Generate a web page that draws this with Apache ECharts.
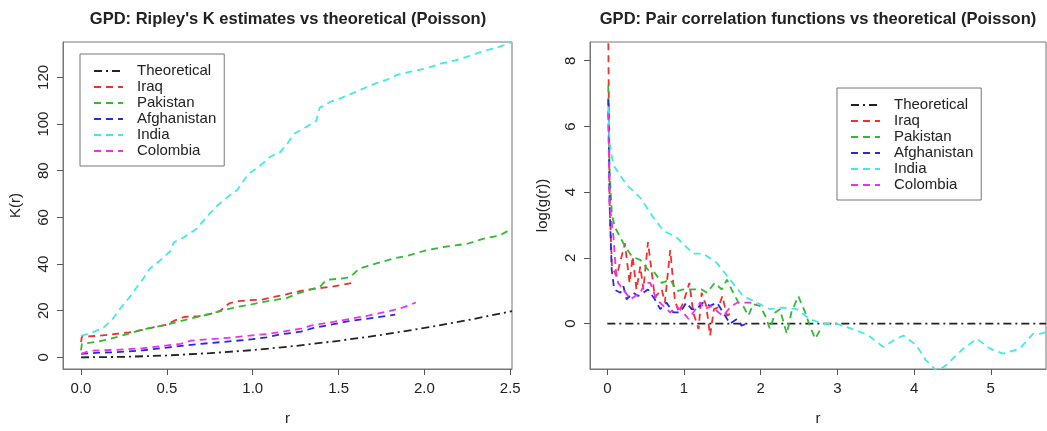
<!DOCTYPE html>
<html><head><meta charset="utf-8">
<script src="https://cdn.jsdelivr.net/npm/echarts@6/dist/echarts.min.js"></script>
<style>html,body{margin:0;padding:0;background:#fff}#c{width:1047px;height:431px}</style>
</head><body><div id="c"></div>
<script>
const seriesNames = ['Theoretical', 'Iraq', 'Pakistan', 'Afghanistan', 'India', 'Colombia'];
const leftTitle = "GPD: Ripley's K estimates vs theoretical (Poisson)";
const rightTitle = "GPD: Pair correlation functions vs theoretical (Poisson)";
const kTicksX = [0, 0.5, 1, 1.5, 2, 2.5];
const kTicksY = [0, 20, 40, 60, 80, 100, 120];
const gTicksX = [0, 1, 2, 3, 4, 5];
const gTicksY = [0, 2, 4, 6, 8];

// Ripley's K (left)
const kTheoretical = [[0,0],[0.25,0.2],[0.5,0.8],[0.75,1.8],[1.0,3.1],[1.25,4.9],[1.5,7.1],[1.75,9.6],[2.0,12.6],[2.25,15.9],[2.51,19.8]];
const kIraq = [[0,6.5],[0.005,8.9],[0.1,9.2],[0.17,9.8],[0.28,10.7],[0.36,11.8],[0.42,12.8],[0.5,14.0],[0.54,15.6],[0.6,17.3],[0.69,17.7],[0.75,18.5],[0.81,19.9],[0.86,23.0],[0.9,24.0],[0.98,24.5],[1.06,24.8],[1.13,26.0],[1.2,27.1],[1.28,28.5],[1.37,29.5],[1.47,30.4],[1.53,31.2],[1.6,32.2]];
const kPakistan = [[0,3.0],[0.005,5.8],[0.1,6.8],[0.17,7.9],[0.28,10.2],[0.36,12.0],[0.5,14.0],[0.62,16.3],[0.77,19.0],[0.89,21.3],[1.0,22.8],[1.08,24.0],[1.2,25.5],[1.26,27.3],[1.37,29.8],[1.39,30.1],[1.43,33.2],[1.53,33.9],[1.57,34.6],[1.62,38.0],[1.7,39.8],[1.82,42.4],[1.9,43.5],[2.01,45.9],[2.11,47.3],[2.25,48.7],[2.34,50.8],[2.44,52.3],[2.51,55.2]];
const kAfghanistan = [[0,1.5],[0.1,2.0],[0.2,2.2],[0.36,3.0],[0.5,4.2],[0.6,5.0],[0.7,5.8],[0.89,7.0],[1.0,7.8],[1.08,8.6],[1.16,9.8],[1.28,11.0],[1.35,12.5],[1.47,14.2],[1.55,15.4],[1.66,16.5],[1.8,18.0],[1.83,18.3]];
const kIndia = [[0,9.2],[0.06,10.5],[0.13,12.7],[0.18,16],[0.23,21.1],[0.28,25.5],[0.32,29.6],[0.36,33.5],[0.40,38],[0.46,41.5],[0.52,45.5],[0.54,49.3],[0.6,51.5],[0.67,54.9],[0.73,60],[0.79,64.8],[0.85,68.5],[0.91,71.8],[0.95,76],[0.98,78.9],[1.04,82],[1.1,85.9],[1.16,88],[1.2,91.5],[1.24,95.8],[1.29,97.8],[1.37,101.4],[1.39,107],[1.45,109.5],[1.49,110.5],[1.56,112.5],[1.63,114.8],[1.72,117.6],[1.78,119],[1.84,121.1],[1.92,122.5],[2.01,123.9],[2.1,126],[2.18,127.3],[2.25,128.9],[2.33,131],[2.40,132.4],[2.47,134],[2.51,135.2]];
const kColombia = [[0,1.5],[0.05,2.8],[0.2,3.2],[0.36,3.9],[0.5,5.1],[0.58,5.8],[0.64,7.2],[0.8,8.0],[0.89,8.6],[1.08,10.0],[1.16,10.8],[1.28,12.3],[1.35,13.8],[1.47,15.2],[1.55,16.3],[1.66,17.7],[1.8,19.9],[1.88,21.5],[1.95,23.5]];

// log pair correlation (right)
const gTheoretical = [[0,0],[5.72,0]];
const gIraq = [[0.012,8.9],[0.03,3.6],[0.06,1.74],[0.12,1.44],[0.17,1.9],[0.23,2.44],[0.29,1.24],[0.33,2.04],[0.38,1.04],[0.43,1.74],[0.47,1.04],[0.53,2.48],[0.62,0.8],[0.71,1.04],[0.75,0.64],[0.82,2.24],[0.88,0.74],[0.93,0.34],[0.99,0.64],[1.07,1.24],[1.12,0.34],[1.19,-0.16],[1.23,0.94],[1.29,0.54],[1.34,-0.36],[1.39,0.44],[1.45,0.5],[1.5,0.84],[1.56,0.24],[1.6,0.3]];
const gPakistan = [[0.012,7.25],[0.03,4.6],[0.06,3.3],[0.1,2.93],[0.21,2.44],[0.32,2.04],[0.43,1.94],[0.53,1.64],[0.62,1.54],[0.71,1.24],[0.82,1.34],[0.91,0.99],[0.99,1.04],[1.12,1.04],[1.23,1.04],[1.30,0.94],[1.40,1.24],[1.49,1.04],[1.56,1.34],[1.62,1.04],[1.71,0.64],[1.77,0.54],[1.84,0.24],[1.90,0.59],[1.99,0.54],[2.06,0.24],[2.12,-0.16],[2.19,0.34],[2.25,0.44],[2.34,-0.31],[2.40,0.34],[2.49,0.84],[2.58,0.34],[2.64,-0.06],[2.71,-0.46],[2.77,-0.21]];
const gAfghanistan = [[0.012,6.83],[0.03,3.63],[0.057,1.64],[0.09,1.04],[0.17,0.94],[0.21,1.14],[0.25,0.74],[0.34,0.94],[0.40,0.84],[0.47,0.94],[0.53,1.04],[0.62,0.74],[0.69,0.44],[0.77,0.64],[0.86,0.34],[0.95,0.34],[1.03,0.64],[1.10,0.44],[1.16,0.44],[1.25,0.64],[1.34,0.54],[1.43,0.64],[1.51,0.34],[1.60,0.0],[1.69,0.14],[1.75,-0.06],[1.82,0.0]];
const gIndia = [[0.012,6.6],[0.03,5.5],[0.078,4.83],[0.25,4.23],[0.43,3.83],[0.6,3.23],[0.73,2.83],[0.9,2.63],[1.12,2.13],[1.25,2.13],[1.43,1.84],[1.6,1.34],[1.77,0.84],[1.95,0.64],[2.12,0.44],[2.29,0.49],[2.47,0.44],[2.64,0.14],[2.82,-0.01],[2.99,0.0],[3.25,-0.21],[3.4,-0.35],[3.6,-0.71],[3.77,-0.46],[3.86,-0.36],[4.03,-0.66],[4.15,-1.1],[4.3,-1.45],[4.42,-1.26],[4.64,-0.76],[4.82,-0.46],[4.99,-0.76],[5.16,-0.91],[5.38,-0.76],[5.55,-0.31],[5.64,-0.31],[5.72,-0.26]];
const gColombia = [[0.012,6.4],[0.03,3.63],[0.08,2.63],[0.11,1.64],[0.14,1.24],[0.21,1.04],[0.30,0.74],[0.43,0.94],[0.49,1.24],[0.56,1.24],[0.64,0.74],[0.73,0.54],[0.82,0.34],[0.90,0.54],[0.99,0.34],[1.06,0.14],[1.12,0.34],[1.21,0.64],[1.27,0.44],[1.36,0.54],[1.45,0.34],[1.51,0.24],[1.60,0.49],[1.69,0.64],[1.77,0.64],[1.86,0.64],[1.95,0.59]];

const colors = ['#222222', '#ee3030', '#30bb30', '#2828e0', '#40eaea', '#ee30ee'];
const dashes = [[8, 4, 2, 4], [7, 5], [7, 5], [7, 5], [7, 5], [7, 5]];
const FONT = 'Liberation Sans, Arial, Helvetica, sans-serif';

const kData = [kTheoretical, kIraq, kPakistan, kAfghanistan, kIndia, kColombia];
const gData = [gTheoretical, gIraq, gPakistan, gAfghanistan, gIndia, gColombia];

function mkSeries(dataSets, idx) {
  return dataSets.map((d, i) => ({
    type: 'line', name: seriesNames[i], xAxisIndex: idx, yAxisIndex: idx,
    data: d, symbol: 'none', legendIcon: 'none', animation: false, clip: true,
    lineStyle: { color: colors[i], width: 1.8, type: dashes[i] },
    itemStyle: { color: colors[i] }
  }));
}

function xAxisCfg(idx, min, max, ticks, fmt) {
  return {
    type: 'value', gridIndex: idx, min: min, max: max, position: 'bottom',
    splitLine: { show: false }, axisLine: { show: true, onZero: false, lineStyle: { color: '#777', width: 1 } },
    axisTick: { show: true, length: 6, customValues: ticks, lineStyle: { color: '#555' } },
    axisLabel: { customValues: ticks, formatter: fmt, fontSize: 15, color: '#222', fontFamily: FONT, margin: 12 },
    name: 'r', nameLocation: 'middle', nameGap: 42,
    nameTextStyle: { fontSize: 15, color: '#222', fontFamily: FONT }
  };
}
function yAxisCfg(idx, min, max, ticks, name) {
  return {
    type: 'value', gridIndex: idx, min: min, max: max, position: 'left',
    splitLine: { show: false }, axisLine: { show: true, onZero: false, lineStyle: { color: '#777', width: 1 } },
    axisTick: { show: true, length: 6, customValues: ticks, lineStyle: { color: '#555' } },
    axisLabel: { customValues: ticks, rotate: 90, fontSize: 15, color: '#222', fontFamily: FONT, margin: 12 },
    name: name, nameLocation: 'middle', nameGap: 40,
    nameTextStyle: { fontSize: 15, color: '#222', fontFamily: FONT }
  };
}
function legendCfg(left, top) {
  return {
    left: left, top: top, orient: 'vertical', data: seriesNames, selectedMode: false,
    itemWidth: 29, itemHeight: 10, itemGap: 0,
    itemStyle: { opacity: 0, color: 'transparent', borderWidth: 0 },
    padding: [9, 8, 7, 13], borderColor: '#777', borderWidth: 1, backgroundColor: '#fff',
    textStyle: { fontSize: 15, lineHeight: 16, color: '#222', fontFamily: FONT, padding: [0, 0, 0, 9] }
  };
}

const chart = echarts.init(document.getElementById('c'), null, { renderer: 'canvas' });
chart.setOption({
  animation: false,
  backgroundColor: '#fff',
  title: [
    { text: leftTitle, left: 283, top: 6, textAlign: 'center', textStyle: { fontSize: 16.5, fontWeight: 'bold', color: '#222', fontFamily: FONT } },
    { text: rightTitle, left: 813, top: 6, textAlign: 'center', textStyle: { fontSize: 16.5, fontWeight: 'bold', color: '#222', fontFamily: FONT } }
  ],
  grid: [
    { left: 63, top: 42, width: 449, height: 332, show: true, borderColor: '#777', borderWidth: 1, backgroundColor: 'transparent' },
    { left: 590, top: 42, width: 456, height: 332, show: true, borderColor: '#777', borderWidth: 1, backgroundColor: 'transparent' }
  ],
  xAxis: [
    xAxisCfg(0, -0.105, 2.51, kTicksX, v => v.toFixed(1)),
    xAxisCfg(1, -0.226, 5.72, gTicksX, v => String(Math.round(v)))
  ],
  yAxis: [
    yAxisCfg(0, -5, 135.2, kTicksY, 'K(r)'),
    yAxisCfg(1, -1.38, 8.57, gTicksY, 'log(g(r))')
  ],
  legend: [legendCfg(80, 54), legendCfg(837, 88)],
  series: mkSeries(kData, 0).concat(mkSeries(gData, 1))
});
</script>
</body></html>
